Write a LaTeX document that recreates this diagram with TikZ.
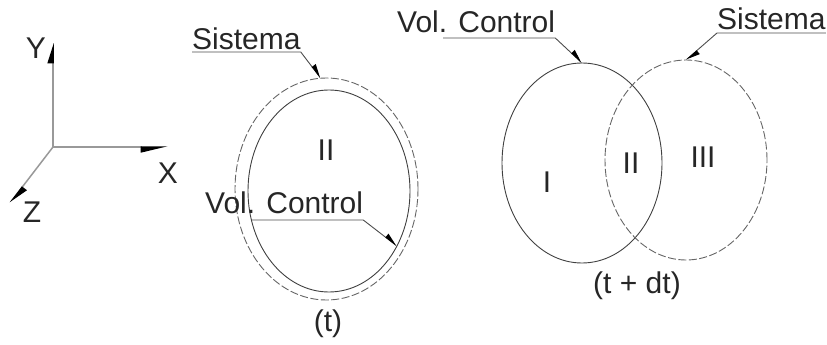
\documentclass[tikz,border=0pt]{standalone}
\usepackage{fontspec}
\setmainfont{Liberation Sans}
\usetikzlibrary{arrows.meta,shapes.geometric}
\begin{document}
\begin{tikzpicture}[x=1pt,y=-1pt,
  txt/.style={font=\fontsize{30}{36}\selectfont, inner sep=0pt, text=black!85},
  axisline/.style={draw=black!40, line width=1.5pt, -{Triangle[length=18pt,width=11pt,left,color=black]}},
  lead/.style={draw=black!70, line width=0.9pt, -{Triangle[length=13pt,width=9pt,left,color=black]}},
  cvol/.style={draw=black!75, line width=0.9pt, ellipse, inner sep=0pt, outer sep=0pt},
  csys/.style={draw=black!60, line width=0.9pt, ellipse, inner sep=0pt, outer sep=0pt, dash pattern=on 8pt off 2.5pt}
]
\useasboundingbox (0,0) rectangle (827,345);

% axes
\coordinate (O) at (53,147);
\coordinate (Ye) at (53,43);
\coordinate (Xe) at (168,147);
\coordinate (Ze) at (10,203);
\draw[axisline] (O) -- (Ye);
\draw[axisline, -{Triangle[length=24pt,width=11pt,right,color=black]}] (O) -- (Xe);
\draw[axisline] (O) -- (Ze);
\node[txt] (ly) at (36,48) {Y};
\node[txt] (lx) at (168,173) {X};
\node[txt] (lz) at (32,212) {Z};

% left diagram (t)
\node[csys, minimum width=183pt, minimum height=222pt] (sy1) at (326.5,189) {};
\node[cvol, minimum width=162pt, minimum height=202pt] (vc1) at (329,191) {};
\node[txt] (n1) at (326,150) {II};
\node[txt, anchor=base west] (s1) at (192,50) {Sistema};
\draw[lead] ([yshift=-2pt]s1.base west) -- ([yshift=-2pt]s1.base east) -- (sy1.93);
\node[txt, anchor=base west] (v1) at (205,213) {Vol. Control};
\draw[lead] ([xshift=47pt,yshift=-7pt]v1.base west) -- ([yshift=-7pt]v1.base east) -- (vc1.-39);
\node[txt] (t1) at (328,324) {(t)};

% right diagram (t + dt)
\node[cvol, minimum width=160pt, minimum height=200pt] (vc2) at (582,163) {};
\node[csys, minimum width=162pt, minimum height=200pt] (sy2) at (686,160) {};
\node[txt] (r1) at (547,182) {I};
\node[txt] (r2) at (631,163) {II};
\node[txt] (r3) at (703,157) {III};
\node[txt, anchor=base west] (v2) at (397,33) {Vol. Control};
\draw[lead] ([xshift=46pt,yshift=-5pt]v2.base west) -- ([yshift=-5pt]v2.base east) -- (vc2.north);
\node[txt, anchor=base west] (s2) at (717,30) {Sistema};
\draw[lead] ([yshift=-3pt]s2.base east) -- ([yshift=-3pt]s2.base west) -- (sy2.north);
\node[txt] (t2) at (637,286) {(t + dt)};
\end{tikzpicture}
\end{document}
